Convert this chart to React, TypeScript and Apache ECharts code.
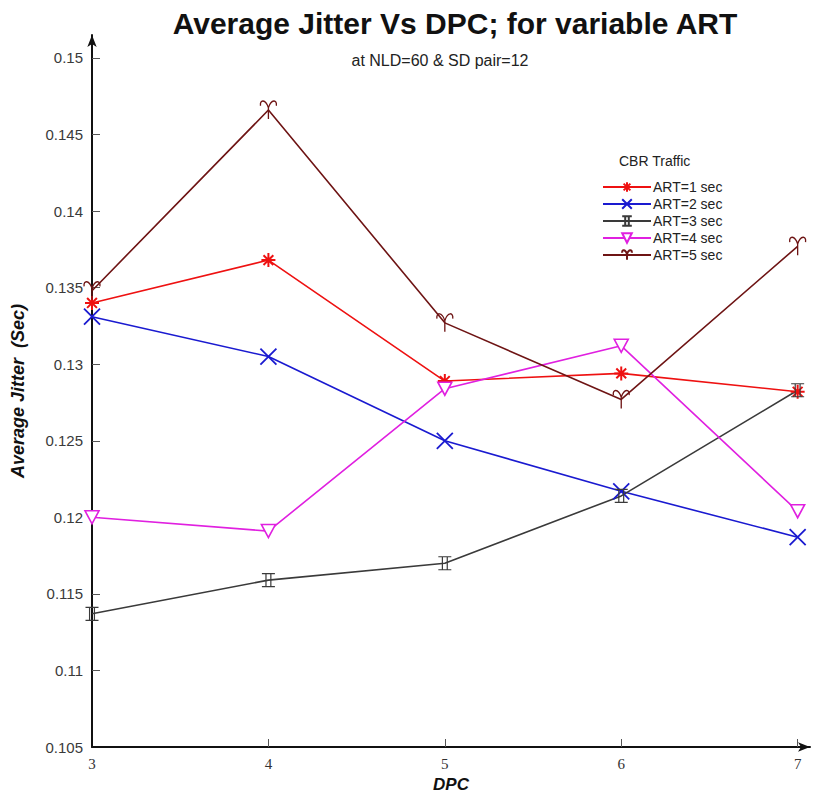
import React, { useEffect, useRef } from "react";
import * as echarts from "echarts";

const dpc = [3, 4, 5, 6, 7];
const art1 = [0.134, 0.1368, 0.1289, 0.1294, 0.1282];
const art2 = [0.1331, 0.1305, 0.125, 0.1217, 0.1187];
const art3 = [0.1137, 0.1159, 0.117, 0.1214, 0.1283];
const art4 = [0.12, 0.1191, 0.1284, 0.1312, 0.1204];
const art5 = [0.1348, 0.1466, 0.1327, 0.1277, 0.1377];
const seriesNames = ["ART=1 sec", "ART=2 sec", "ART=3 sec", "ART=4 sec", "ART=5 sec"];
const yTickValues = [0.11, 0.115, 0.12, 0.125, 0.13, 0.135, 0.14, 0.145, 0.15];
const yLabelValues = [0.105, 0.11, 0.115, 0.12, 0.125, 0.13, 0.135, 0.14, 0.145, 0.15];
const xTickValues = [4, 5, 6, 7];
const xLabelValues = [3, 4, 5, 6, 7];

const SYM_AST = "path://M0,10 L20,10 M10,0 L10,20 M3,3 L17,17 M17,3 L3,17";
const SYM_X = "path://M0,0 L20,20 M20,0 L0,20";
const SYM_I = "path://M2,0 L18,0 M2,20 L18,20 M7,0 L7,20 M13,0 L13,20";
const SYM_TRI = "path://M0,0 L20,0 L10,18 Z M0,0 L20,0";
const SYM_Y = "path://M2,7 C1,1 7,0 10,9 C13,0 19,1 18,7 M10,9 L10,20";

export default function App() {
  const ref = useRef<HTMLDivElement>(null);
  useEffect(() => {
    if (!ref.current) return;
    const chart = echarts.init(ref.current, null, { renderer: "svg" });
    const mk = (
      name: string,
      vals: number[],
      color: string,
      symbol: string,
      size: number | number[],
      fill: string,
      bw: number
    ) => ({
      name,
      type: "line",
      data: dpc.map((d, i) => [d, vals[i]]),
      symbol,
      symbolSize: size,
      showAllSymbol: true,
      lineStyle: { color, width: 1.6 },
      itemStyle: { color: fill, borderColor: color, borderWidth: bw },
      z: 3,
    });
    chart.setOption({
      animation: false,
      backgroundColor: "#ffffff",
      title: [
        {
          text: "Average Jitter Vs DPC; for variable ART",
          left: 450,
          top: 3,
          textAlign: "center",
          textStyle: { fontFamily: "Liberation Sans", fontWeight: "bold", fontSize: 30, color: "#111" },
        },
        {
          text: "at NLD=60 & SD pair=12",
          left: 435,
          top: 47,
          textAlign: "center",
          textStyle: { fontFamily: "Liberation Sans", fontWeight: "normal", fontSize: 16, color: "#222" },
        },
      ],
      graphic: [
        {
          type: "text",
          left: 619,
          top: 154,
          style: { text: "CBR Traffic", fontFamily: "Liberation Sans", fontSize: 14, fill: "#222" },
        },
      ],
      legend: {
        orient: "vertical",
        left: 597,
        top: 175,
        itemWidth: 48,
        itemHeight: 12,
        itemGap: 3,
        data: seriesNames,
        textStyle: { fontFamily: "Liberation Sans", fontSize: 14, color: "#222", padding: [0, 0, 0, -3] },
      },
      grid: { left: 92, right: 6, top: 35, bottom: 49, outerBoundsMode: "none", containLabel: false },
      xAxis: {
        type: "value",
        min: 3,
        max: 7.07,
        name: "DPC",
        nameLocation: "middle",
        nameGap: 28,
        nameTextStyle: { fontFamily: "Liberation Sans", fontWeight: "bold", fontStyle: "italic", fontSize: 17, color: "#111" },
        axisLine: { lineStyle: { color: "#111", width: 2 }, symbol: ["none", "arrow"], symbolSize: [7, 12] },
        axisTick: { inside: true, length: 8, lineStyle: { color: "#555" }, customValues: xTickValues },
        axisLabel: {
          customValues: xLabelValues,
          fontFamily: "Liberation Serif",
          fontSize: 15,
          color: "#333",
          margin: 9,
        },
        splitLine: { show: false },
      },
      yAxis: {
        type: "value",
        min: 0.105,
        max: 0.1515,
        name: "Average Jitter  (Sec)",
        nameLocation: "middle",
        nameRotate: 90,
        nameGap: 65,
        nameTextStyle: { fontFamily: "Liberation Sans", fontWeight: "bold", fontStyle: "italic", fontSize: 18, color: "#111" },
        axisLine: { lineStyle: { color: "#111", width: 2 }, symbol: ["none", "arrow"], symbolSize: [7, 12] },
        axisTick: { inside: true, length: 8, lineStyle: { color: "#555" }, customValues: yTickValues },
        axisLabel: {
          customValues: yLabelValues,
          fontFamily: "Liberation Sans",
          fontSize: 15,
          color: "#3a3a3a",
          margin: 9,
          formatter: (v: number) => String(parseFloat(v.toFixed(4))),
        },
        splitLine: { show: false },
      },
      series: [
        mk(seriesNames[0], art1, "#ee1111", SYM_AST, 14, "#ee1111", 2),
        mk(seriesNames[1], art2, "#1a1ad0", SYM_X, 16, "#1a1ad0", 1.8),
        mk(seriesNames[2], art3, "#3a3a3a", SYM_I, [13, 13], "transparent", 1.2),
        mk(seriesNames[3], art4, "#e020e0", SYM_TRI, [14, 13], "#ffffff", 1.6),
        mk(seriesNames[4], art5, "#6e1414", SYM_Y, [16, 18], "transparent", 1.4),
      ],
    });
    return () => chart.dispose();
  }, []);
  return <div ref={ref} style={{ position: "fixed", left: 0, top: 0, width: 816, height: 796 }} />;
}
